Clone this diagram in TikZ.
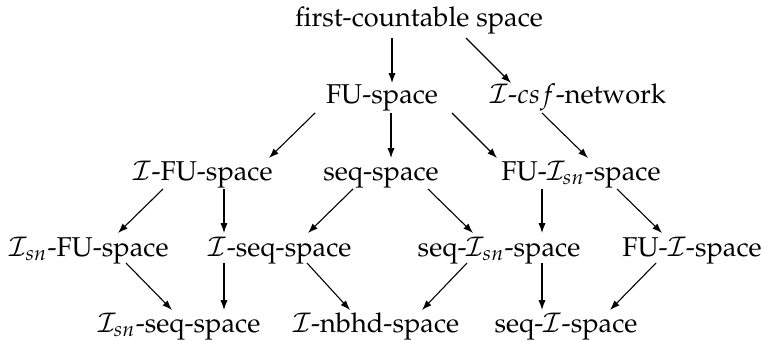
\documentclass[tikz,border=0pt]{standalone}
\usepackage[T1]{fontenc}
\usepackage{mathpazo}
\usetikzlibrary{arrows.meta}
\begin{document}
\begin{tikzpicture}[x=0.3675pt,y=-0.3675pt,
  lbl/.style={inner sep=0pt, anchor=base, font=\fontsize{10}{12}\selectfont},
  arr/.style={line width=0.4pt, -{Latex[length=3.6pt,width=2.6pt]}}]
\useasboundingbox (0,0) rectangle (762,340);
\node[lbl] (fc) at (419,27) {first-countable space};
\node[lbl] (fu) at (382,104) {FU-space};
\node[lbl] (csf) at (578,104) {$\mathcal{I}$-$csf$-network};
\node[lbl] (ifu) at (203,180) {$\mathcal{I}$-FU-space};
\node[lbl] (seq) at (381,180) {seq-space};
\node[lbl] (fuisn) at (581,180) {FU-$\mathcal{I}_{sn}$-space};
\node[lbl] (isnfu) at (89,256) {$\mathcal{I}_{sn}$-FU-space};
\node[lbl] (iseq) at (280,256) {$\mathcal{I}$-seq-space};
\node[lbl] (seqisn) at (499,256) {seq-$\mathcal{I}_{sn}$-space};
\node[lbl] (fui) at (692,256) {FU-$\mathcal{I}$-space};
\node[lbl] (isnseq) at (179,332) {$\mathcal{I}_{sn}$-seq-space};
\node[lbl] (inbhd) at (376,332) {$\mathcal{I}$-nbhd-space};
\node[lbl] (seqi) at (566,332) {seq-$\mathcal{I}$-space};
\draw[arr] ([shift={(-27,11)}]fc.base) -- ([shift={(10,-21)}]fu.base);
\draw[arr] ([shift={(47,11)}]fc.base) -- ([shift={(-67,-21)}]csf.base);
\draw[arr] ([shift={(-67,9)}]fu.base) -- ([shift={(66,-22)}]ifu.base);
\draw[arr] ([shift={(9,9)}]fu.base) -- ([shift={(10,-22)}]seq.base);
\draw[arr] ([shift={(70,9)}]fu.base) -- ([shift={(-84,-22)}]fuisn.base);
\draw[arr] ([shift={(-36,9)}]csf.base) -- ([shift={(7,-22)}]fuisn.base);
\draw[arr] ([shift={(-40,9)}]ifu.base) -- ([shift={(29,-23)}]isnfu.base);
\draw[arr] ([shift={(21,9)}]ifu.base) -- ([shift={(-56,-23)}]iseq.base);
\draw[arr] ([shift={(-28,9)}]seq.base) -- ([shift={(28,-23)}]iseq.base);
\draw[arr] ([shift={(47,9)}]seq.base) -- ([shift={(-26,-23)}]seqisn.base);
\draw[arr] ([shift={(-39,9)}]fuisn.base) -- ([shift={(43,-23)}]seqisn.base);
\draw[arr] ([shift={(36,9)}]fuisn.base) -- ([shift={(-30,-23)}]fui.base);
\draw[arr] ([shift={(37,7)}]isnfu.base) -- ([shift={(-7,-22)}]isnseq.base);
\draw[arr] ([shift={(-56,7)}]iseq.base) -- ([shift={(45,-22)}]isnseq.base);
\draw[arr] ([shift={(27,7)}]iseq.base) -- ([shift={(-26,-22)}]inbhd.base);
\draw[arr] ([shift={(-32,7)}]seqisn.base) -- ([shift={(46,-22)}]inbhd.base);
\draw[arr] ([shift={(43,7)}]seqisn.base) -- ([shift={(-24,-22)}]seqi.base);
\draw[arr] ([shift={(-36,7)}]fui.base) -- ([shift={(44,-22)}]seqi.base);
\end{tikzpicture}
\end{document}
